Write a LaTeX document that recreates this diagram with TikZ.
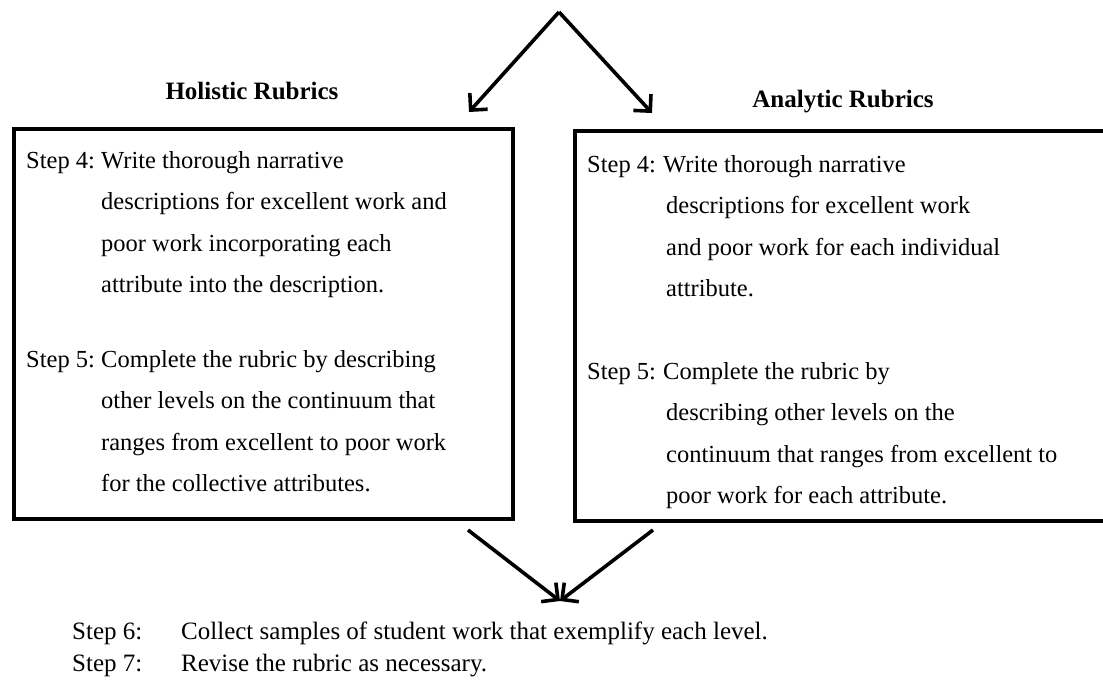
\documentclass[tikz,border=0pt]{standalone}
\usepackage{fontspec}
\setmainfont{Liberation Serif}
\usetikzlibrary{arrows.meta}
\tikzset{
    flow/.style={line width=3.6pt,-{Straight Barb[length=12pt,width=24pt,line width=3.6pt]}},
    rubricbox/.style={draw,line width=3.8pt,rectangle,anchor=north west,inner sep=0pt},
    rubrictitle/.style={anchor=base,font=\fontsize{25}{30}\selectfont\bfseries},
    steplabel/.style={anchor=base west,inner sep=0pt,font=\fontsize{24.5}{41.5}\selectfont},
    steptext/.style={anchor=base west,inner sep=0pt,font=\fontsize{24.5}{41.5}\selectfont},
    finallabel/.style={anchor=base west,inner sep=0pt,font=\fontsize{25}{32}\selectfont}
}
\newcommand{\steplines}[1]{\begin{tabular}[t]{@{}l@{}}#1\end{tabular}}
\begin{document}
\begin{tikzpicture}[x=1pt,y=-1pt]
 \useasboundingbox (0,0) rectangle (1103,690);
 \coordinate (apex) at (559,12);
 \coordinate (holtip) at (469,112);
 \coordinate (anatip) at (652,113);
 \node[rubrictitle] (holtitle) at (252,100) {Holistic Rubrics};
 \node[rubrictitle] (anatitle) at (843,108) {Analytic Rubrics};
 \draw[flow] (apex) -- (holtip);
 \draw[flow] (apex) -- (anatip);
 \node[rubricbox,minimum width=499pt,minimum height=390pt] (holbox) at (12,127) {};
 \node[rubricbox,minimum width=540pt,minimum height=390pt] (anabox) at (573,129) {};
 \node[steplabel] (hol4) at (26,168) {Step 4:};
 \node[steptext] (hol4text) at (101,168) {\steplines{Write thorough narrative\\
    descriptions for excellent work and\\
    poor work incorporating each\\
    attribute into the description.}};
 \node[steplabel] (hol5) at (26,367) {Step 5:};
 \node[steptext] (hol5text) at (101,367) {\steplines{Complete the rubric by describing\\
    other levels on the continuum that\\
    ranges from excellent to poor work\\
    for the collective attributes.}};
 \node[steplabel] (ana4) at (587,172) {Step 4:};
 \node[steptext] (ana4text) at (663,172) {\steplines{Write thorough narrative\\
    \hspace*{3pt}descriptions for excellent work\\
    \hspace*{3pt}and poor work for each individual\\
    \hspace*{3pt}attribute.}};
 \node[steplabel] (ana5) at (587,379) {Step 5:};
 \node[steptext] (ana5text) at (663,379) {\steplines{Complete the rubric by\\
    \hspace*{3pt}describing other levels on the\\
    \hspace*{3pt}continuum that ranges from excellent to\\
    \hspace*{3pt}poor work for each attribute.}};
 \coordinate (holfoot) at (468,530);
 \coordinate (anafoot) at (653,530);
 \coordinate (meet) at (560,601);
 \draw[flow] (holfoot) -- (meet);
 \draw[flow] (anafoot) -- (meet);
 \node[finallabel] (step6) at (72,639) {Step 6:};
 \node[finallabel] (step6text) at (181,639) {Collect samples of student work that exemplify each level.};
 \node[finallabel] (step7) at (72,671) {Step 7:};
 \node[finallabel] (step7text) at (181,671) {Revise the rubric as necessary.};
\end{tikzpicture}
\end{document}
